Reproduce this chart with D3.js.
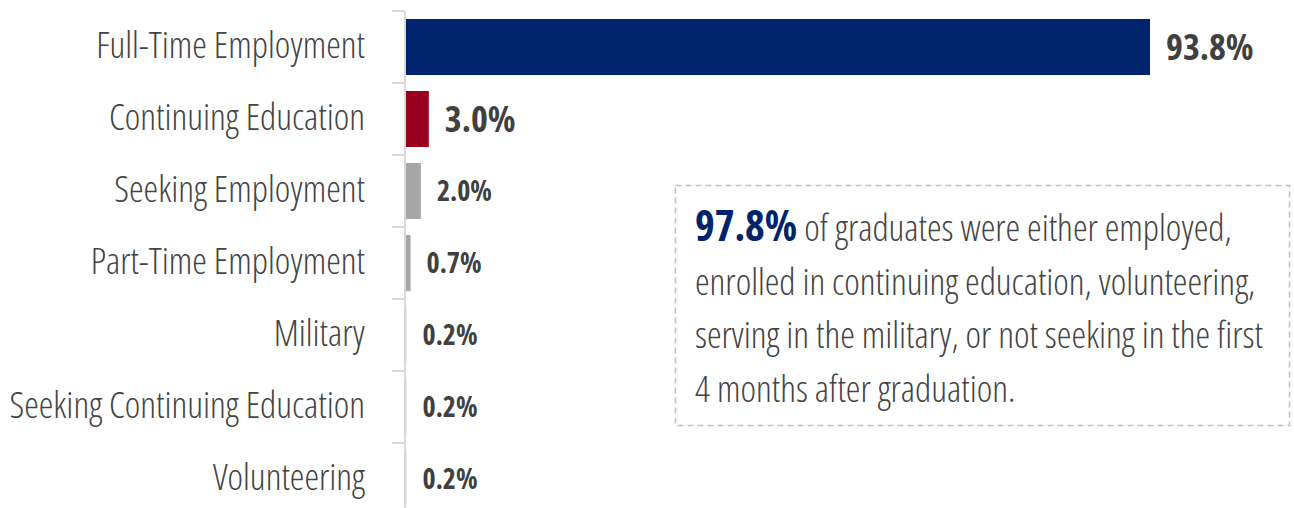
<!DOCTYPE html>
<html>
<head>
<meta charset="utf-8">
<script src="https://cdn.jsdelivr.net/npm/d3@7"></script>
<style>
  body { margin: 0; background: #fff; }
  svg text { font-family: "Open Sans", "Noto Sans", sans-serif; font-stretch: 75%; }
</style>
</head>
<body>
<svg id="chart" width="1294" height="508"></svg>
<script>
const categories = [
    "Full-Time Employment",
    "Continuing Education",
    "Seeking Employment",
    "Part-Time Employment",
    "Military",
    "Seeking Continuing Education",
    "Volunteering"
];
const values = [93.8, 3.0, 2.0, 0.7, 0.2, 0.2, 0.2];
const barColors = ["#00236b", "#990020", "#a6a6a6", "#a6a6a6", "#d9d9d9", "#d9d9d9", "#d9d9d9"];

const calloutHighlight = "97.8%";
const calloutLines = [
    " of graduates were either employed,",
    "enrolled in continuing education, volunteering,",
    "serving in the military, or not seeking in the first",
    "4 months after graduation."
];

const data = categories.map((c, i) => ({ category: c, value: values[i], color: barColors[i] }));

const svg = d3.select("#chart");
const axisX = 405;
const plotTop = 11;
const rowH = 72;

const y = d3.scaleBand()
    .domain(categories)
    .range([plotTop, plotTop + rowH * categories.length])
    .paddingInner(0);

const x = d3.scaleLinear()
    .domain([0, d3.max(values)])
    .range([axisX, 1150]);

const barH = 56;

// bars
svg.selectAll(".bar")
    .data(data)
    .enter()
    .append("rect")
    .attr("class", "bar")
    .attr("x", x(0))
    .attr("y", d => y(d.category) + (y.bandwidth() - barH) / 2)
    .attr("width", d => x(d.value) - x(0))
    .attr("height", barH)
    .attr("fill", d => d.color);

// axis line + boundary ticks
svg.append("line")
    .attr("x1", axisX).attr("x2", axisX)
    .attr("y1", plotTop).attr("y2", 508)
    .attr("stroke", "#d9d9d9")
    .attr("stroke-width", 2);

const bounds = categories.map(c => y(c)).concat([y.range()[1]]);
svg.selectAll(".tick")
    .data(bounds)
    .enter()
    .append("line")
    .attr("class", "tick")
    .attr("x1", axisX - 13).attr("x2", axisX)
    .attr("y1", d => d).attr("y2", d => d)
    .attr("stroke", "#d9d9d9")
    .attr("stroke-width", 2);

// category labels
svg.selectAll(".cat")
    .data(data)
    .enter()
    .append("text")
    .attr("class", "cat")
    .attr("x", 365)
    .attr("y", d => y(d.category) + y.bandwidth() / 2)
    .attr("dy", "0.3em")
    .attr("text-anchor", "end")
    .attr("font-size", 37)
    .attr("font-weight", 300)
    .attr("fill", "#444")
    .text(d => d.category);

// value labels
svg.selectAll(".val")
    .data(data)
    .enter()
    .append("text")
    .attr("class", "val")
    .attr("x", d => x(d.value) + 16)
    .attr("y", d => y(d.category) + y.bandwidth() / 2)
    .attr("dy", "0.36em")
    .attr("font-size", d => d.value >= 3 ? 36 : 28)
    .attr("font-weight", 700)
    .attr("fill", "#404040")
    .text(d => d.value.toFixed(1) + "%");

// callout box
svg.append("rect")
    .attr("x", 675.5).attr("y", 185.5)
    .attr("width", 614).attr("height", 240)
    .attr("fill", "none")
    .attr("stroke", "#c0c0c0")
    .attr("stroke-width", 1.5)
    .attr("stroke-dasharray", "6,4");

const callout = svg.append("text")
    .attr("class", "callout")
    .attr("x", 695)
    .attr("y", 241)
    .attr("font-size", 37)
    .attr("font-weight", 300)
    .attr("fill", "#444");

calloutLines.forEach((line, i) => {
    if (i === 0) {
        callout.append("tspan")
            .attr("x", 695)
            .attr("font-size", 42)
            .attr("font-weight", 700)
            .attr("fill", "#00236b")
            .text(calloutHighlight);
        callout.append("tspan").text(line);
    } else {
        callout.append("tspan")
            .attr("x", 695)
            .attr("dy", 53.5)
            .text(line);
    }
});

// if no condensed face is installed, squeeze the text horizontally
const probe = svg.append("text").attr("font-size", 36).attr("font-weight", 300).text("Continuing Education");
const w1 = probe.node().getComputedTextLength();
probe.style("font-stretch", "100%");
const w2 = probe.node().getComputedTextLength();
probe.remove();
if (w1 / w2 > 0.9) {
    svg.selectAll("text").each(function () {
        const t = d3.select(this);
        const tx = +t.attr("x");
        t.attr("transform", `translate(${tx},0) scale(0.74,1) translate(${-tx},0)`);
    });
}
</script>
</body>
</html>
